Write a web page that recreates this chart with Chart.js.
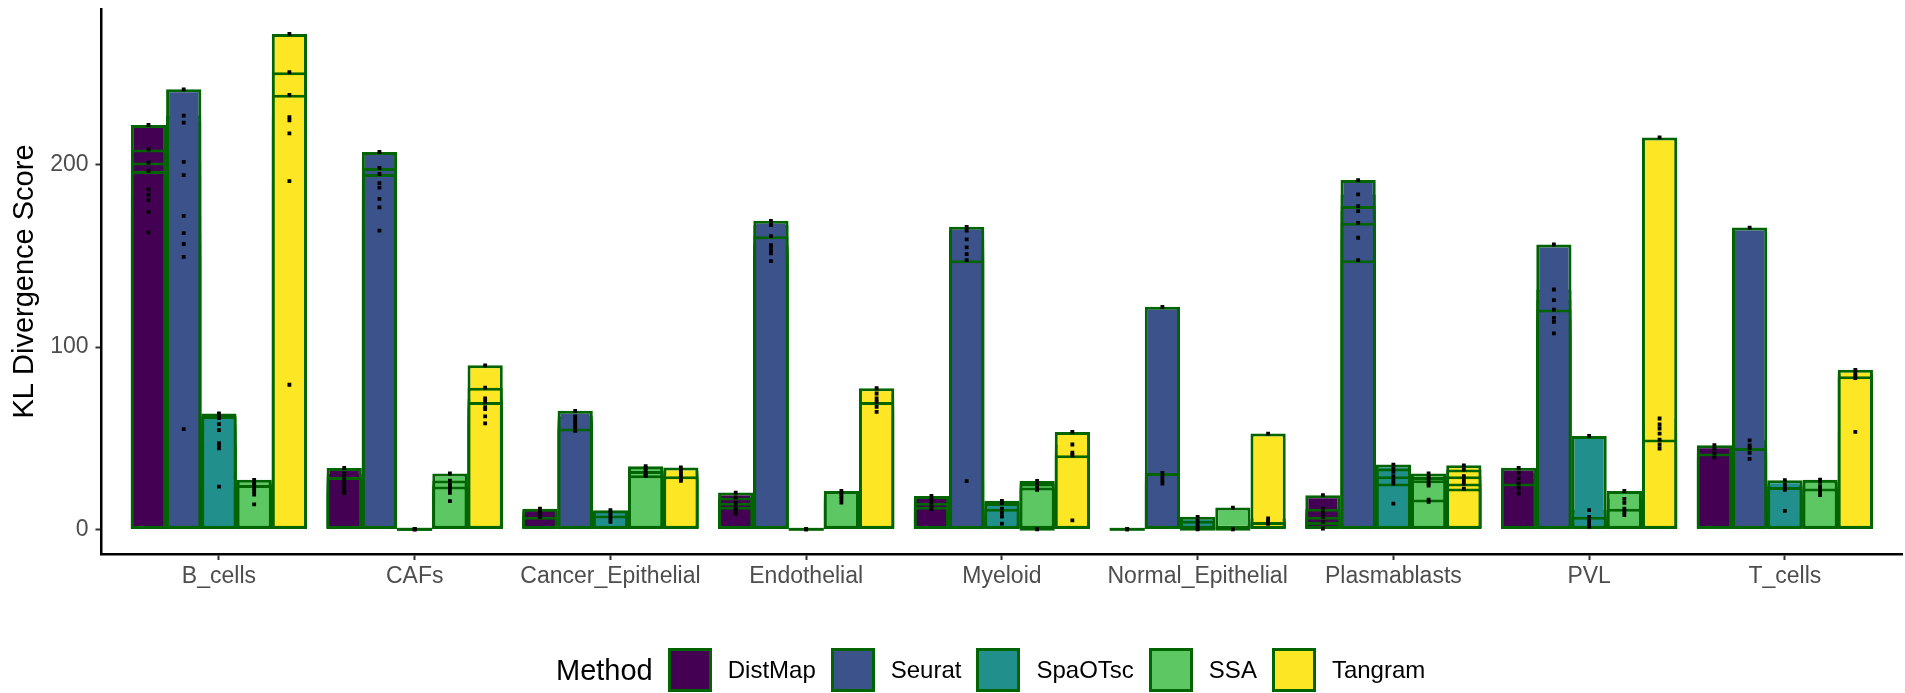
<!DOCTYPE html>
<html>
<head>
<meta charset="utf-8">
<title>KL Divergence Score by cell type</title>
<script src="https://cdn.jsdelivr.net/npm/chart.js@4.4.1/dist/chart.umd.min.js"></script>
<style>
    html, body { margin: 0; padding: 0; background: #fff; }
    #wrap { position: relative; width: 1905px; height: 693px; }
    #legend {
        position: absolute; left: 556px; top: 648px; height: 44px;
        display: flex; align-items: center;
        font-family: "Liberation Sans", Arial, sans-serif;
    }
    #legend .title { font-size: 29px; color: #000; margin-right: 15px; }
    #legend .key { box-sizing: border-box; width: 44px; height: 44px; border: 3px solid #006400; margin-right: 16px; }
    #legend .label { font-size: 24px; color: #000; margin-right: 15px; }
</style>
</head>
<body>
<div id="wrap">
    <canvas id="klChart" width="1905" height="693"></canvas>
    <div id="legend"></div>
</div>
<script>
const cellTypes = ["B_cells", "CAFs", "Cancer_Epithelial", "Endothelial", "Myeloid",
    "Normal_Epithelial", "Plasmablasts", "PVL", "T_cells"];
const methods = ["DistMap", "Seurat", "SpaOTsc", "SSA", "Tangram"];
const methodColors = ["#440154", "#3B528B", "#21908C", "#5DC863", "#FDE725"];
const yTicks = [0, 100, 200];

// scores of each run, one list per cell type (runs in the order they were drawn)
const distMapScores = [
    [196.7, 201.3, 208.5, 221.9, 186.6, 183.6, 180.7, 174.2, 163.0],
    [28.7, 33.6, 30.5, 27.0, 25.0, 23.0, 21.0, 19.8],
    [6.8, 11.3, 10.5, 9.5, 8.5, 7.5],
    [12.3, 14.5, 17.4, 20.1, 11.0, 10.0, 8.6],
    [12.3, 14.5, 18.3, 16.5, 11.0],
    [0, 0],
    [4.0, 6.8, 11.3, 18.7, 9.0, 0.4],
    [25.1, 33.7, 31.0, 28.0, 22.5, 19.6],
    [41.6, 46.1, 44.0, 39.4]
];
const seuratScores = [
    [241.5, 227.1, 223.2, 201.7, 194.4, 172.0, 162.6, 156.6, 149.5, 55.0],
    [195.0, 198.3, 207.1, 190.0, 187.5, 181.4, 176.7, 163.9],
    [55.3, 65.0, 62.0, 60.0, 58.5, 57.0, 54.0],
    [160.9, 169.3, 167.0, 156.0, 155.0, 153.0, 151.4, 147.2],
    [147.7, 166.0, 164.0, 159.1, 154.7, 151.0, 26.4],
    [30.9, 122.1, 29.0, 27.0, 25.1],
    [147.7, 168.2, 177.4, 191.7, 183.8, 174.6, 160.0],
    [120.6, 156.3, 131.6, 125.8, 116.0, 113.8, 107.5],
    [44.6, 165.6, 48.8, 46.0, 42.0, 38.6]
];
const spaOTscScores = [
    [62.2, 63.6, 61.0, 57.7, 54.4, 47.3, 46.0, 44.4, 23.4],
    [0, 0, 0],
    [7.5, 10.4, 9.0, 6.0, 4.1],
    [0, 0],
    [11.3, 14.4, 15.6, 9.0, 7.0, 3.1],
    [1.3, 4.6, 6.8, 3.0, 0],
    [25.1, 29.1, 33.3, 35.5, 31.5, 27.0, 14.1],
    [6.8, 51.2, 10.5, 4.5, 2.5, 1.3],
    [23.2, 26.9, 24.5, 21.6, 10.1]
];
const ssaScores = [
    [24.3, 27.1, 25.5, 22.5, 21.0, 19.0, 13.6],
    [23.4, 26.7, 30.6, 24.5, 22.0, 20.0, 15.4],
    [29.7, 32.0, 34.6, 33.5, 31.0, 29.2],
    [21.0, 19.5, 18.0, 16.5, 14.6],
    [22.9, 25.1, 26.5, 21.6, 0],
    [11.9, 0],
    [16.3, 26.9, 28.7, 30.6, 25.0, 24.0, 15.0],
    [11.3, 21.0, 16.7, 14.5, 9.5, 7.8],
    [22.3, 27.2, 26.0, 23.6, 20.5, 18.7]
];
const tangramScores = [
    [238.5, 250.9, 271.9, 226.2, 224.5, 217.3, 191.1, 79.3],
    [69.9, 77.7, 90.0, 71.8, 67.0, 65.9, 62.0, 58.1],
    [29.1, 33.9, 32.0, 30.5, 27.5, 26.5],
    [69.9, 77.4, 74.5, 71.8, 67.2, 64.4],
    [40.6, 53.4, 46.5, 42.0, 4.9],
    [4.0, 52.5, 6.0, 4.5, 3.0],
    [22.3, 25.1, 29.1, 32.8, 35.1, 27.0],
    [49.2, 215.1, 60.8, 57.5, 55.3, 52.5, 46.5, 44.3],
    [84.0, 87.5, 85.5, 83.0, 53.4]
];

const scoresByMethod = [distMapScores, seuratScores, spaOTscScores, ssaScores, tangramScores];

const FONT = "'Liberation Sans', Arial, sans-serif";
const OUTLINE = "#006400";
const GROUP_WIDTH = 0.9;

// one bar dataset per run; runs of the same method share a slot so they overlap
function buildBarDatasets() {
    const datasets = [];
    scoresByMethod.forEach((scores, m) => {
        const runs = Math.max(...scores.map(s => s.length));
        for (let r = 0; r < runs; r++) {
            const data = [];
            scores.forEach((list, i) => {
                if (r < list.length) data.push({ x: i + 1, y: list[r] });
            });
            datasets.push({
                type: "bar",
                label: methods[m],
                stack: methods[m],
                data: data,
                backgroundColor: methodColors[m],
                borderColor: OUTLINE,
                borderWidth: 3,
                borderSkipped: false,
                minBarLength: 3,
                categoryPercentage: GROUP_WIDTH,
                barPercentage: 1.0,
                order: 1
            });
        }
    });
    return datasets;
}

// every run as a small black square at the centre of its bar
function buildPointDataset() {
    const slot = GROUP_WIDTH / methods.length;
    const points = [];
    scoresByMethod.forEach((scores, m) => {
        scores.forEach((list, i) => {
            list.forEach(v => {
                points.push({ x: i + 1 + (m - (methods.length - 1) / 2) * slot, y: v });
            });
        });
    });
    return {
        type: "scatter",
        data: points,
        pointStyle: "rect",
        pointRadius: 2.7,
        pointHoverRadius: 2.7,
        backgroundColor: "#000",
        borderWidth: 0,
        order: 0
    };
}

function buildLegend() {
    const legend = document.getElementById("legend");
    legend.innerHTML = '<span class="title">Method</span>';
    methods.forEach((name, m) => {
        const key = document.createElement("span");
        key.className = "key";
        key.style.background = methodColors[m];
        const label = document.createElement("span");
        label.className = "label";
        label.textContent = name;
        legend.appendChild(key);
        legend.appendChild(label);
    });
}

function drawChart() {
    const ctx = document.getElementById("klChart").getContext("2d");
    new Chart(ctx, {
        type: "bar",
        data: {
            datasets: [buildPointDataset()].concat(buildBarDatasets())
        },
        options: {
            responsive: false,
            animation: false,
            devicePixelRatio: 1,
            layout: { padding: { top: 9, left: 0, right: 0, bottom: 0 } },
            plugins: {
                legend: { display: false },
                tooltip: { enabled: false }
            },
            scales: {
                x: {
                    type: "linear",
                    offset: false,
                    min: 0.4,
                    max: cellTypes.length + 0.6,
                    afterBuildTicks: s => { s.ticks = cellTypes.map((c, i) => ({ value: i + 1 })); },
                    afterFit: s => { s.height = 139; s.paddingLeft = 0; s.paddingRight = 0; },
                    ticks: {
                        callback: v => cellTypes[Math.round(v) - 1],
                        autoSkip: false,
                        maxRotation: 0,
                        color: "#4D4D4D",
                        font: { family: FONT, size: 23 },
                        padding: 3
                    },
                    grid: { offset: false, drawOnChartArea: false, tickLength: 6, tickWidth: 2, tickColor: "#333333" },
                    border: { display: true, color: "#000", width: 2.5 }
                },
                y: {
                    type: "linear",
                    stacked: false,
                    min: -13.6,
                    max: 285.6,
                    afterBuildTicks: s => { s.ticks = yTicks.map(v => ({ value: v })); },
                    afterFit: s => { s.width = 101.5; s.paddingTop = 0; s.paddingBottom = 0; },
                    ticks: {
                        color: "#4D4D4D",
                        font: { family: FONT, size: 23 },
                        padding: 7
                    },
                    grid: { drawOnChartArea: false, tickLength: 6, tickWidth: 2, tickColor: "#333333" },
                    border: { display: true, color: "#000", width: 2.5 },
                    title: {
                        display: true,
                        text: "KL Divergence Score",
                        color: "#000",
                        font: { family: FONT, size: 29 },
                        padding: { top: 8, bottom: 0 }
                    }
                }
            }
        }
    });
}

window.addEventListener("DOMContentLoaded", () => {
    buildLegend();
    drawChart();
});
</script>
</body>
</html>
